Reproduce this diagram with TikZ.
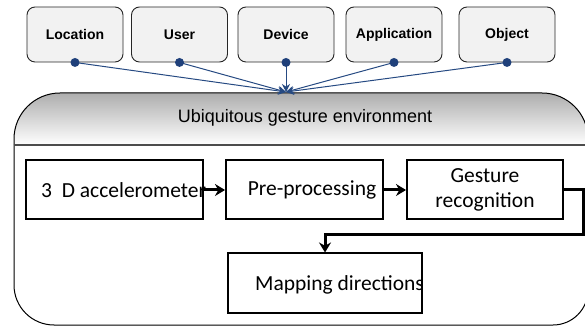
\documentclass[tikz,border=0pt]{standalone}
\usepackage{fontspec}
\setmainfont{Carlito}
\newfontfamily\arialfont{Liberation Sans}
\usetikzlibrary{arrows.meta}
\definecolor{ctxblue}{RGB}{38,74,130}
\definecolor{dotblue}{RGB}{31,64,122}
\tikzset{
  ctxbox/.style={draw=black!85, line width=0.9pt, fill=black!5, rounded corners=8pt,
    minimum width=96pt, minimum height=55pt, font=\arialfont\bfseries\fontsize{14}{16}\selectfont},
  ctxarrow/.style={draw=ctxblue, line width=1pt, -{Stealth[length=8pt,width=8pt]}},
  procbox/.style={draw, line width=2pt, minimum height=59pt, font=\fontsize{21.5}{25}\selectfont},
  proctext/.style={inner sep=0pt, font=\fontsize{21.5}{25}\selectfont},
  flowarrow/.style={line width=3pt, -{Stealth[length=10pt,width=12pt]}},
}
\begin{document}
\begin{tikzpicture}[x=1pt,y=1pt]
    \useasboundingbox (0,0) rectangle (585,326);

    % Környezet
    \shade[top color=black!32, bottom color=white] (14,181) -- (14,187)
      arc[start angle=180, end angle=90, radius=46] -- (542,233)
      arc[start angle=90, end angle=0, radius=46] -- (588,181) -- cycle;
    \draw[line width=1pt] (14,181) -- (14,187)
      arc[start angle=180, end angle=90, radius=46] -- (542,233)
      arc[start angle=90, end angle=0, radius=46] -- (588,181);
    \draw[line width=1pt] (14,181) -- (14,41)
      arc[start angle=180, end angle=270, radius=40] -- (553,1)
      arc[start angle=270, end angle=360, radius=35] -- (588,181);
    \draw[black!70, line width=1.8pt] (14,181) -- (588,181);
    \node[font=\arialfont\fontsize{18}{20}\selectfont] (envtitle) at (305,208) {Ubiquitous gesture environment};

    % Felső dobozok
    \node[ctxbox] (location) at (75,291.5) {Location};
    \node[ctxbox] (user) at (179.5,291.5) {User};
    \node[ctxbox] (device) at (286,291.5) {Device};
    \node[ctxbox] (application) at (394,291.5) {Application};
    \node[ctxbox] (object) at (507,291.5) {Object};
    \coordinate (hub) at (286,234);

    \draw[ctxarrow] (location.south) -- (hub);
    \draw[ctxarrow] (user.south) -- (hub);
    \draw[ctxarrow] (device.south) -- (hub);
    \draw[ctxarrow] (application.south) -- (hub);
    \draw[ctxarrow] (object.south) -- (hub);
    \fill[dotblue] (location.south) circle (4.5pt);
    \fill[dotblue] (user.south) circle (4.5pt);
    \fill[dotblue] (device.south) circle (4.5pt);
    \fill[dotblue] (application.south) circle (4.5pt);
    \fill[dotblue] (object.south) circle (4.5pt);

    % Feldolgozás
    \node[procbox, minimum width=177pt] (accel) at (114.5,136) {};
    \node[proctext, anchor=west] (acceltext) at (41,136) {3\ \ D accelerometer};
    \node[procbox, minimum width=157pt] (preproc) at (304.5,136) {};
    \node[proctext] (preproctext) at (312,136) {Pre-processing};
    \node[procbox, minimum width=156pt, align=center] (gesture) at (485,136) {Gesture\\recognition};
    \node[procbox, minimum width=194pt] (mapping) at (325,43) {};
    \node[proctext, anchor=west] (mappingtext) at (255,41) {Mapping directions};
    \coordinate (turn) at (583,91);

    \draw[flowarrow] (accel.east) -- (preproc.west);
    \draw[flowarrow] (preproc.east) -- (gesture.west);
    \draw[flowarrow] (gesture.east) -| (turn) -| (mapping.north);
\end{tikzpicture}
\end{document}
